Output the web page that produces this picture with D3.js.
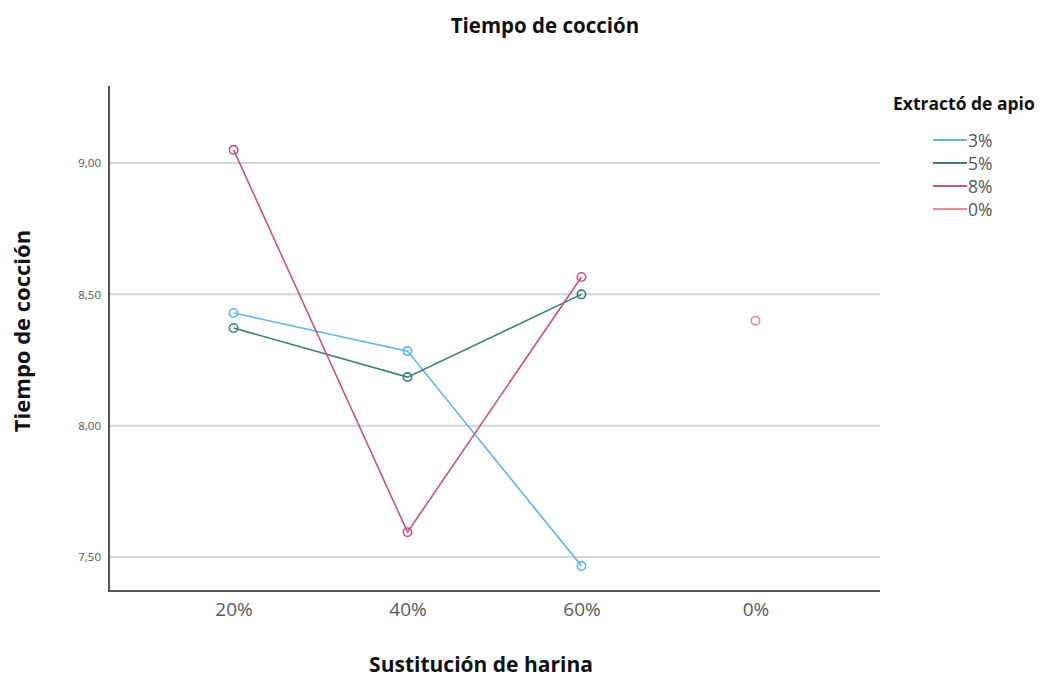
<!DOCTYPE html>
<html><head><meta charset="utf-8">
<script src="https://cdn.jsdelivr.net/npm/d3@7"></script>
<style>body{margin:0;background:#fff}svg{display:block}</style>
</head><body><svg id="c" width="1044" height="677"></svg>
<script>
const categories = ["20%","40%","60%","0%"];
const seriesNames = ["3%","5%","8%","0%"];
const seriesColors = ["#5ab6ee","#3a8078","#c4548a","#f4878f"];
const values3 = [8.429, 8.284, 7.466, null];
const values5 = [8.372, 8.185, 8.50, null];
const values8 = [9.05, 7.595, 8.566, null];
const values0 = [null, null, null, 8.40];
const yTicks = [7.5, 8.0, 8.5, 9.0];
const seriesValues = [values3, values5, values8, values0];

const svg = d3.select("#c");
const font = "'Open Sans', sans-serif";
const x = d3.scalePoint().domain(categories).range([109, 880]).padding(0.716);
const y = d3.scaleLinear().domain([7.371, 9.293]).range([591, 86]);

// gridlines
svg.append("g").selectAll("line").data(yTicks).join("line")
  .attr("x1",109).attr("x2",880).attr("y1",d=>y(d)).attr("y2",d=>y(d))
  .attr("stroke","#d4d4d4").attr("stroke-width",2);

// axes
const yAxis = svg.append("g").attr("transform","translate(109,0)")
  .call(d3.axisLeft(y).tickValues(yTicks).tickSize(0).tickPadding(8).tickFormat(d=>d3.format(".2f")(d).replace(".",",")));
yAxis.select(".domain").remove();
yAxis.selectAll("text").attr("font-family",font).attr("font-size",11.5).attr("fill","#555");
const xAxis = svg.append("g").attr("transform","translate(0,591)")
  .call(d3.axisBottom(x).tickSize(0).tickPadding(12));
xAxis.select(".domain").remove();
xAxis.selectAll("text").attr("font-family",font).attr("font-size",19).attr("fill","#595959");

svg.append("path").attr("d","M109,86V591H880").attr("fill","none").attr("stroke","#555").attr("stroke-width",2);

// lines and markers
const line = d3.line().defined(d=>d.v!=null).x(d=>x(d.c)).y(d=>y(d.v));
seriesValues.forEach((vals,i)=>{
  const pts = vals.map((v,j)=>({c:categories[j],v}));
  svg.append("path").datum(pts).attr("d",line).attr("fill","none")
    .attr("stroke",seriesColors[i]).attr("stroke-width",1.6);
  svg.append("g").selectAll("circle").data(pts.filter(p=>p.v!=null)).join("circle")
    .attr("cx",d=>x(d.c)).attr("cy",d=>y(d.v)).attr("r",4.2)
    .attr("fill","none").attr("stroke",seriesColors[i]).attr("stroke-width",1.6);
});

// titles
svg.append("text").attr("x",545).attr("y",33).attr("text-anchor","middle")
  .attr("font-family",font).attr("font-weight","bold").attr("font-size",20.5).attr("fill","#111")
  .text("Tiempo de cocción");
svg.append("text").attr("transform","translate(30,331) rotate(-90)").attr("text-anchor","middle")
  .attr("font-family",font).attr("font-weight","bold").attr("font-size",22).attr("fill","#111")
  .text("Tiempo de cocción");
svg.append("text").attr("x",481).attr("y",672).attr("text-anchor","middle")
  .attr("font-family",font).attr("font-weight","bold").attr("font-size",21).attr("fill","#111")
  .text("Sustitución de harina");

// legend
svg.append("text").attr("x",893).attr("y",110)
  .attr("font-family",font).attr("font-weight","bold").attr("font-size",17.5).attr("fill","#111")
  .text("Extractó de apio");
const lg = svg.append("g").selectAll("g").data(seriesNames).join("g")
  .attr("transform",(d,i)=>`translate(0,${140+i*23})`);
lg.append("line").attr("x1",933).attr("x2",967).attr("y1",0).attr("y2",0)
  .attr("stroke",(d,i)=>seriesColors[i]).attr("stroke-width",2);
lg.append("text").attr("x",968).attr("y",6.5).attr("font-family",font).attr("font-size",17.5)
  .attr("fill","#555").text(d=>d);
</script></body></html>
